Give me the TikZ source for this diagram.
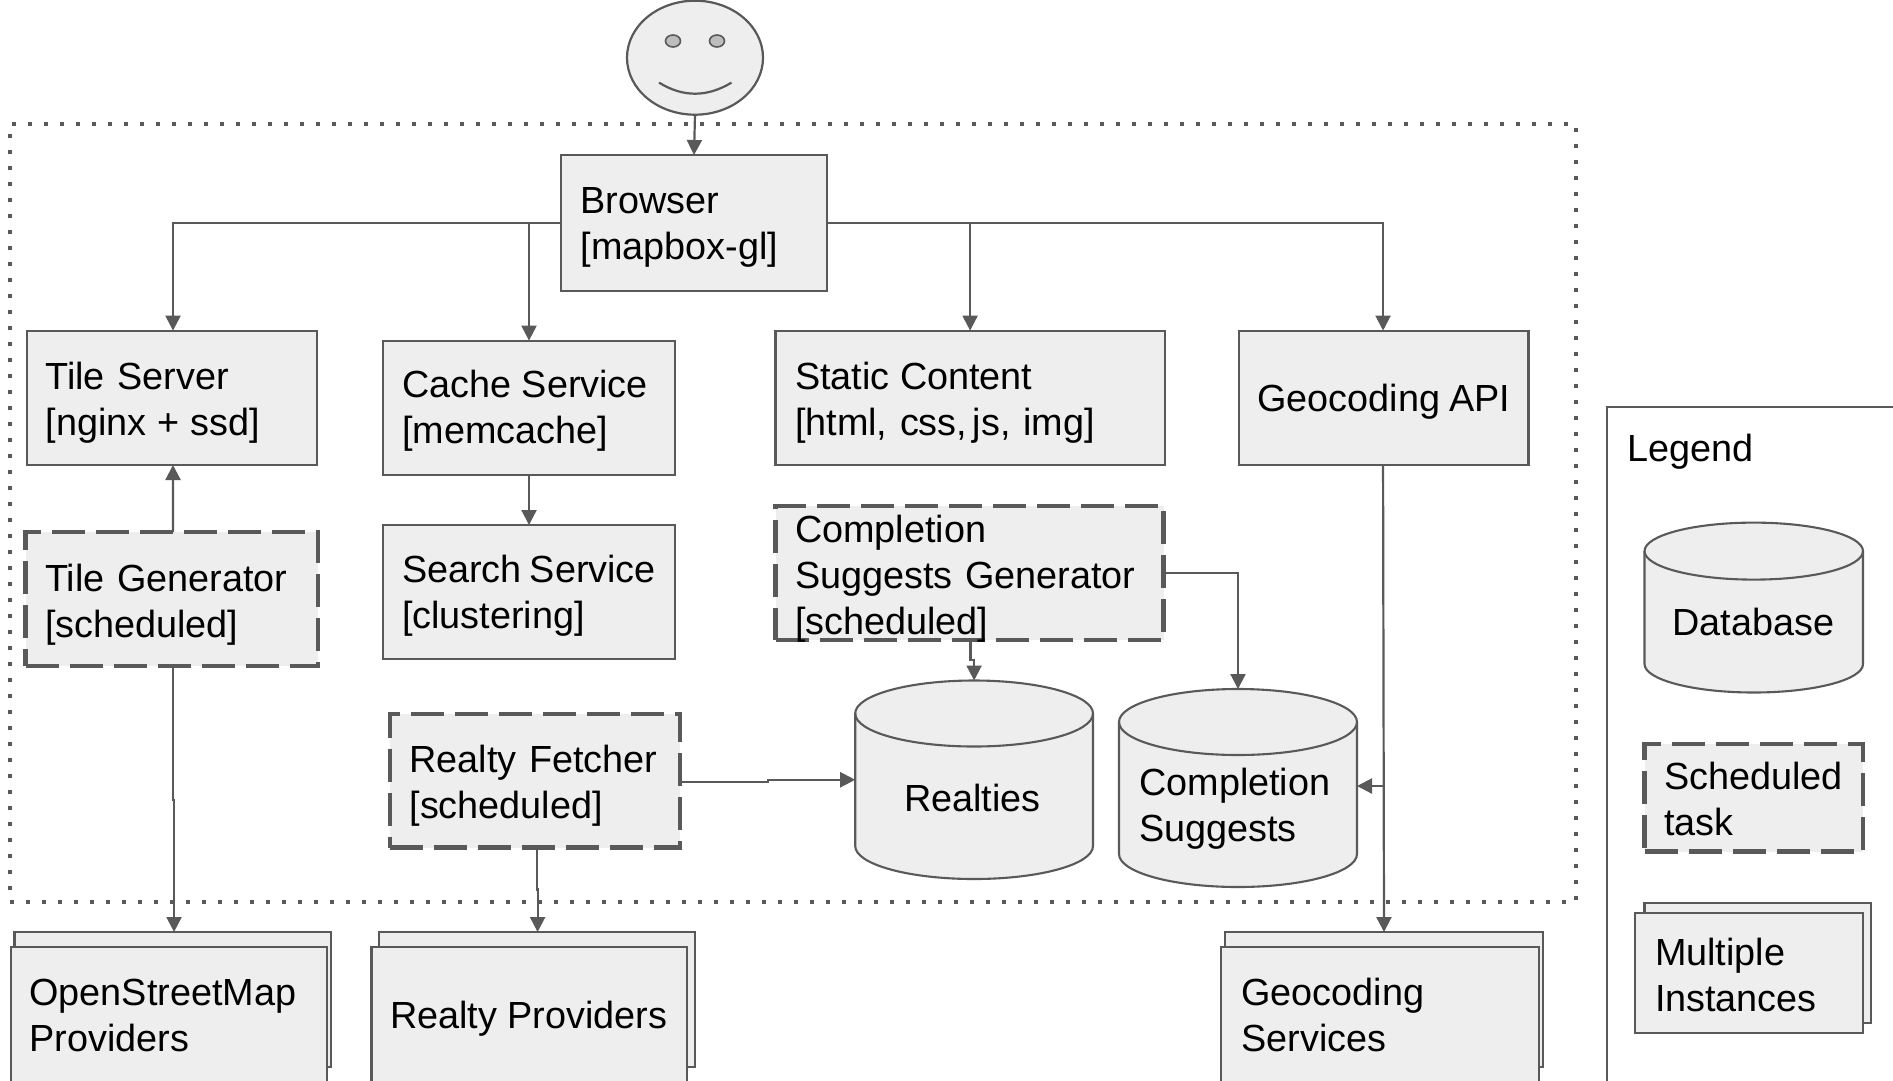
\documentclass[tikz,border=0pt]{standalone}
\usepackage{fontspec}
\setmainfont{Liberation Sans}
\usetikzlibrary{arrows.meta,shapes.geometric}
\definecolor{ink}{HTML}{595959}
\definecolor{paper}{HTML}{EEEEEE}
\definecolor{eye}{HTML}{BDBDBD}
\tikzset{
  every node/.style={font=\fontsize{37.8}{46}\selectfont,text=black},
  solidbox/.style={rectangle,draw=ink,fill=paper,line width=2.1pt,inner ysep=0pt,outer sep=0pt,align=left},
  dashbox/.style={solidbox,line width=4.4pt,dash pattern=on 33pt off 11pt},
  ghost/.style={rectangle,inner sep=0pt,outer sep=0pt},
  cylshape/.style={draw=ink,fill=paper,line width=2.1pt},
  conn/.style={draw=ink,line width=2.2pt,-{Triangle[length=15pt,width=15pt]}},
  plainline/.style={draw=ink,line width=2.2pt},
  dotframe/.style={rectangle,draw=ink,line width=4pt,dash pattern=on 4pt off 12pt,outer sep=0pt,inner sep=0pt},
  frame/.style={rectangle,draw=ink,line width=2pt,outer sep=0pt,inner sep=0pt},
  facestyle/.style={ellipse,draw=ink,fill=paper,line width=2.2pt,inner sep=0pt,outer sep=0pt},
  eyestyle/.style={ellipse,draw=ink,fill=eye,line width=1.6pt,inner sep=0pt,outer sep=0pt}
}
\newcommand\textlines[2][-4.5pt]{\raisebox{#1}[\height][\depth]{\begin{tabular}{@{}l@{}}#2\end{tabular}}}
% name, x1, y1, x2, y2, style, left padding, text
\newcommand\boxnode[8]{%
  \pgfmathsetmacro\wbx{#4-#2}\pgfmathsetmacro\hbx{#5-#3}\pgfmathsetmacro\twb{#4-#2-2*#7}%
  \node[#6,inner xsep=#7pt,minimum width=\wbx pt,minimum height=\hbx pt,text width=\twb pt] (#1) at ({(#2+#4)/2},{(#3+#5)/2}) {#8};}
\newcommand\emptybox[5]{%
  \pgfmathsetmacro\wbx{#4-#2}\pgfmathsetmacro\hbx{#5-#3}%
  \node[solidbox,minimum width=\wbx pt,minimum height=\hbx pt] (#1) at ({(#2+#4)/2},{(#3+#5)/2}) {};}
\newcommand\cylnode[6]{%
  \pgfmathsetmacro\wbx{#4-#2}\pgfmathsetmacro\hbx{#5-#3}\pgfmathsetmacro\rxb{(#4-#2)/2}%
  \draw[cylshape] (#2,#3+#6) arc[start angle=180,end angle=0,x radius=\rxb pt,y radius=#6pt]
    -- (#4,#5-#6) arc[start angle=360,end angle=180,x radius=\rxb pt,y radius=#6pt] -- cycle;
  \draw[cylshape,fill=none] (#2,#3+#6) arc[start angle=180,end angle=360,x radius=\rxb pt,y radius=#6pt];
  \node[ghost,minimum width=\wbx pt,minimum height=\hbx pt] (#1) at ({(#2+#4)/2},{(#3+#5)/2}) {};}
\begin{document}
\begin{tikzpicture}[x=1pt,y=-1pt]
\path[use as bounding box,clip] (0,0) rectangle (1893,1080);

% outer frames
\node[dotframe,minimum width=1566pt,minimum height=777.6pt] (zone) at (793,512.8) {};
\node[frame,minimum width=320pt,minimum height=720pt] (legendframe) at (1767,767) {};
\node[anchor=west,inner xsep=0pt,inner ysep=0pt] (legendtitle) at (1627,448) {\textlines{Legend}};

% user
\node[facestyle,minimum width=136pt,minimum height=114pt] (face) at (695,57.7) {};
\node[eyestyle,minimum width=15pt,minimum height=12pt] (eyeL) at (673,41) {};
\node[eyestyle,minimum width=15pt,minimum height=12pt] (eyeR) at (717,41) {};
\draw[plainline] (659,82.6) .. controls (683,97.4) and (707,97.4) .. (731.5,82.6);

% boxes
\boxnode{browser}{561}{155}{827}{291}{solidbox}{19.5}{\textlines{Browser\\{}[mapbox-gl]}}
\boxnode{tile}{27}{330.6}{317}{465}{solidbox}{18.5}{\textlines[-5.5pt]{Tile Server\\{}[nginx\hspace{-1.5pt} +\hspace{-1.5pt} ssd]}}
\boxnode{cache}{383}{340.6}{675}{475}{solidbox}{19}{\textlines[-3.8pt]{Cache\hspace{-2pt} Service\\{}[memcache]}}
\boxnode{static}{775.5}{330.6}{1164.7}{465}{solidbox}{19.5}{\textlines[-5.5pt]{Static\hspace{-2pt} Content\\{}[html, css,\hspace{-7pt} js, img]}}
\boxnode{geoapi}{1239}{330.6}{1528.5}{465}{solidbox}{18.5}{\textlines{Geocoding\hspace{-3.5pt} API}}
\boxnode{tilegen}{25.5}{532}{318}{666}{dashbox}{19.5}{\textlines[-6.5pt]{Tile Generator\\{}[scheduled]}}
\boxnode{search}{383}{525}{675}{659}{solidbox}{19}{\textlines{Search\hspace{-4.5pt} Service\\{}[clustering]}}
\boxnode{compgen}{775.5}{506}{1163.5}{640}{dashbox}{19.5}{\smash{\textlines[-13pt]{Completion\\Suggests Generator\\{}[scheduled]}}}
\boxnode{fetcher}{390}{714}{680}{847.5}{dashbox}{19.5}{\textlines[-6pt]{Realty Fetcher\\{}[scheduled]}}

% databases
\cylnode{realties}{855.2}{680.5}{1093}{879}{33}
\node[inner sep=0pt] (realtiestext) at (972.5,798) {\textlines{Realties}};
\cylnode{compsug}{1119}{689}{1357}{887}{33}
\node[anchor=west,inner sep=0pt] (compsugtext) at (1139,806) {\textlines[-3.5pt]{Completion\\Suggests}};
\cylnode{legenddb}{1644.5}{522.6}{1863}{692.5}{28.5}
\node[inner sep=0pt] (legenddbtext) at (1753.5,622) {\textlines{Database}};

% multiple instances
\emptybox{osmback}{14.5}{932}{331}{1067}
\boxnode{osm}{11}{946.7}{327}{1082}{solidbox}{18.5}{\textlines[-5pt]{OpenStreetMap\\Providers}}
\emptybox{realtyback}{379}{932}{695}{1067}
\boxnode{realty}{371.5}{946.7}{687}{1082}{solidbox}{18.5}{\textlines{Realty\hspace{-2pt} Providers}}
\emptybox{geoback}{1225.4}{932}{1543}{1067}
\boxnode{geo}{1221}{946.7}{1538.7}{1082}{solidbox}{20.5}{\textlines[-5pt]{Geocoding\\Services}}

% legend samples
\boxnode{legendsched}{1644.5}{744}{1863}{851.6}{dashbox}{19.5}{\textlines[-5.5pt]{Scheduled\\task}}
\emptybox{legendback}{1644.5}{902.6}{1871}{1022.8}
\boxnode{legendmulti}{1635}{912.6}{1863}{1033}{solidbox}{20}{\textlines[-6pt]{Multiple\\Instances}}

% connectors
\draw[conn] (face.south) -- (browser.north);
\draw[conn] (browser.west) -| ([xshift=1pt]tile.north);
\draw[conn] (browser.west) -| (cache.north);
\draw[conn] (browser.east) -| (static.north);
\draw[conn] (browser.east) -| ([xshift=-.7pt]geoapi.north);
\draw[conn] (cache.south) -- (search.north);
\draw[conn] ([xshift=1.3pt]tilegen.north) -- ([xshift=1pt]tile.south);
\draw[conn] ([xshift=1.5pt]tilegen.south) -- ++(0,134) -| ([xshift=1.3pt]osmback.north);
\draw[conn] ([xshift=2pt]fetcher.south) -- ++(0,42) -| ([xshift=.6pt]realtyback.north);
\draw[conn] ([yshift=-1.5pt]fetcher.east) -- ++(88,0) |- (realties.west);
\draw[conn] ([xshift=1pt]compgen.south) -- ++(0,20) -| (realties.north);
\draw[conn] (compgen.east) -| (compsug.north);
\draw[conn] ([xshift=-.7pt]geoapi.south) -- ([xshift=-.2pt]geoback.north);
\draw[conn] ([xshift=-.7pt,yshift=2pt]compsug.east -| geoapi.south) -- ([yshift=2pt]compsug.east);
\end{tikzpicture}
\end{document}
